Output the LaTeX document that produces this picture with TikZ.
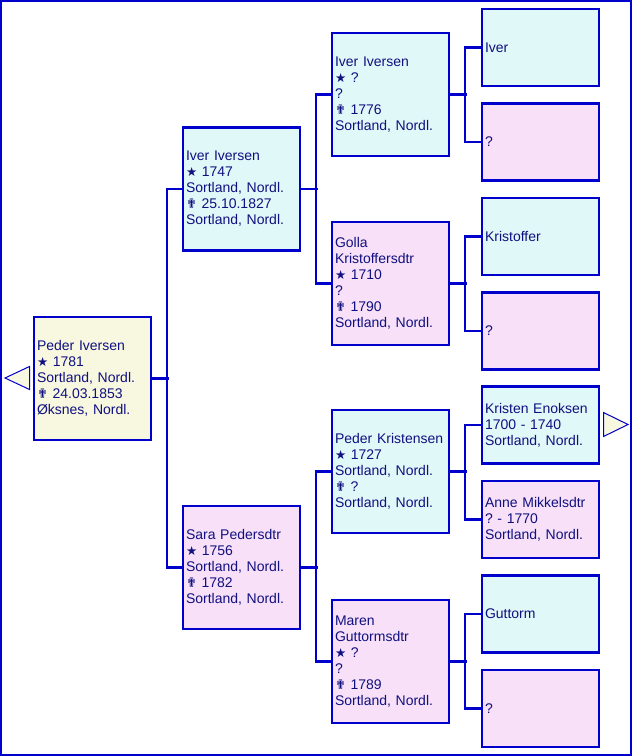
\documentclass[tikz,border=0pt]{standalone}
\usepackage{fontspec}
\setmainfont{Liberation Sans}
\newfontfamily\symfont{DejaVu Sans}
\frenchspacing
\definecolor{frameblue}{RGB}{0,0,204}
\definecolor{txtblue}{RGB}{16,16,128}
\definecolor{malefill}{RGB}{224,248,248}
\definecolor{femfill}{RGB}{248,224,248}
\definecolor{rootfill}{RGB}{248,248,224}
\newcommand{\bsym}{{\symfont\fontsize{12.5}{16}\selectfont ★}}
\newcommand{\dsym}{{\symfont\fontsize{13}{16}\selectfont ✟}}
\begin{document}
\begin{tikzpicture}[x=1pt,y=-1pt,
 person/.style={draw=frameblue, line width=2.2pt, text=txtblue, font=\fontsize{14}{16}\selectfont,
   align=left, text width=111pt, inner xsep=3pt, inner ysep=0pt, minimum width=117pt, anchor=center},
 big/.style={person, minimum height=123pt},
 small/.style={person, minimum height=77pt},
 male/.style={fill=malefill}, female/.style={fill=femfill}, rootp/.style={fill=rootfill},
 link/.style={draw=frameblue, line width=2.2pt},
 arrowtri/.style={draw=frameblue, line width=1pt, fill=rootfill}
]
\useasboundingbox (0,0) rectangle (632,756);
\draw[draw=frameblue, line width=2.2pt] (1,1) rectangle (631,755);

% root
\node[big, rootp] (root) at (92.5,378.5) {Peder Iversen\\ \bsym\ 1781\\ Sortland, Nordl.\\ \dsym\ 24.03.1853\\ Øksnes, Nordl.};

% generation 2
\node[big, male] (g2a) at (241.5,189) {Iver Iversen\\ \bsym\ 1747\\ Sortland, Nordl.\\ \dsym\ 25.10.1827\\ Sortland, Nordl.};
\node[big, female] (g2b) at (241.5,567.5) {Sara Pedersdtr\\ \bsym\ 1756\\ Sortland, Nordl.\\ \dsym\ 1782\\ Sortland, Nordl.};

% generation 3
\node[big, male] (g3a) at (390.5,94.5) {Iver Iversen\\ \bsym\ ?\\ ?\\ \dsym\ 1776\\ Sortland, Nordl.};
\node[big, female] (g3b) at (390.5,283.5) {Golla\\ Kristoffersdtr\\ \bsym\ 1710\\ ?\\ \dsym\ 1790\\ Sortland, Nordl.};
\node[big, male] (g3c) at (390.5,471.5) {Peder Kristensen\\ \bsym\ 1727\\ Sortland, Nordl.\\ \dsym\ ?\\ Sortland, Nordl.};
\node[big, female] (g3d) at (390.5,661.5) {Maren\\ Guttormsdtr\\ \bsym\ ?\\ ?\\ \dsym\ 1789\\ Sortland, Nordl.};

% generation 4
\node[small, male] (g4a) at (540.5,47.5) {Iver};
\node[small, female] (g4b) at (540.5,142) {?};
\node[small, male] (g4c) at (540.5,236.5) {Kristoffer};
\node[small, female] (g4d) at (540.5,331) {?};
\node[small, male] (g4e) at (540.5,425) {Kristen Enoksen\\ 1700 - 1740\\ Sortland, Nordl.};
\node[small, female] (g4f) at (540.5,519.5) {Anne Mikkelsdtr\\ ? - 1770\\ Sortland, Nordl.};
\node[small, male] (g4g) at (540.5,614) {Guttorm};
\node[small, female] (g4h) at (540.5,708.5) {?};

% connectors
\draw[link] (root.east) -- ++(17,0);
\draw[link] (g2a.west) -- ++(-15,0) |- (g2b.west);

\draw[link] (g2a.east) -- ++(17,0);
\draw[link] (g2b.east) -- ++(17,0);
\draw[link] (g3a.west) -- ++(-15,0) |- (g3b.west);
\draw[link] (g3c.west) -- ++(-15,0) |- (g3d.west);

\draw[link] (g3a.east) -- ++(17,0);
\draw[link] (g3b.east) -- ++(17,0);
\draw[link] (g3c.east) -- ++(17,0);
\draw[link] (g3d.east) -- ++(17,0);
\draw[link] (g4a.west) -- ++(-16,0) |- (g4b.west);
\draw[link] (g4c.west) -- ++(-16,0) |- (g4d.west);
\draw[link] (g4e.west) -- ++(-16,0) |- (g4f.west);
\draw[link] (g4g.west) -- ++(-16,0) |- (g4h.west);

% navigation triangles
\draw[arrowtri] (5,378) -- (29.5,366.5) -- (29.5,389.5) -- cycle;
\draw[arrowtri] (603.5,412.5) -- (628,424.5) -- (603.5,436.5) -- cycle;
\end{tikzpicture}
\end{document}
